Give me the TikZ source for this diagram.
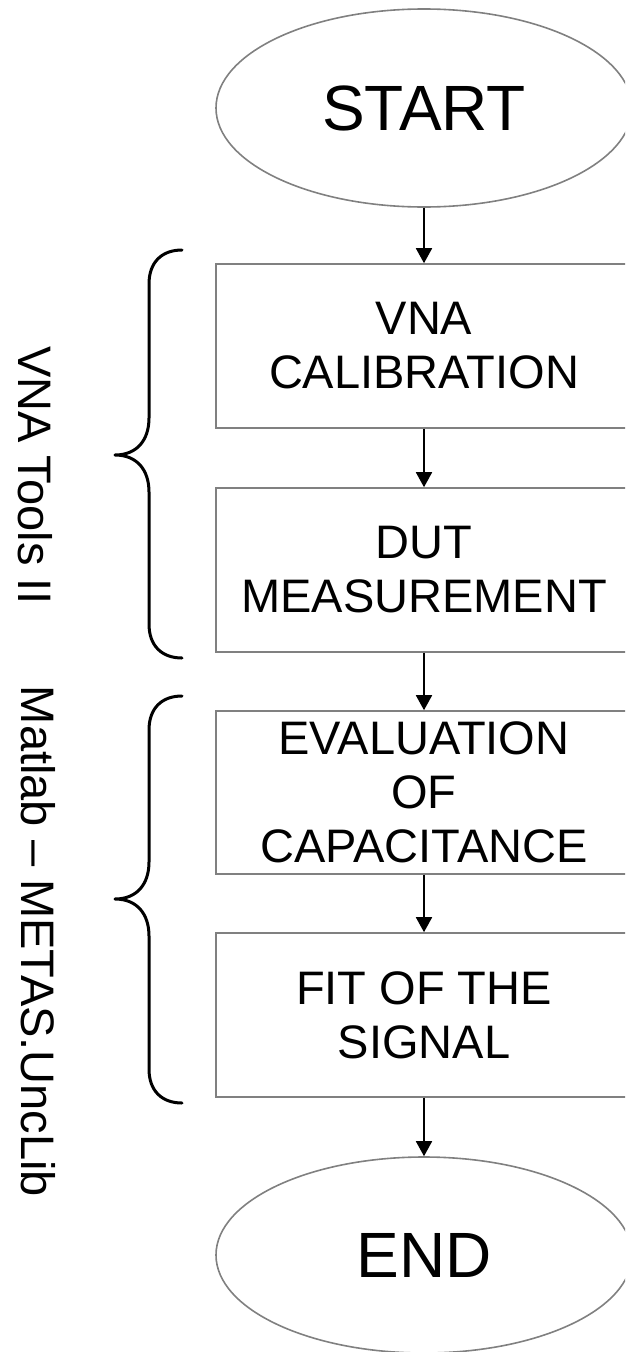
\documentclass[tikz,border=0pt]{standalone}
\usepackage{fontspec}
\setmainfont{Liberation Sans}
\usetikzlibrary{shapes.geometric,arrows.meta}
\definecolor{boxgray}{RGB}{128,128,128}
\begin{document}
\begin{tikzpicture}[x=1pt,y=-1pt,
  box/.style={draw=boxgray, line width=1.6pt, minimum width=416pt, minimum height=164pt, inner sep=0pt, align=center, font=\fontsize{47}{54}\selectfont},
  term/.style={draw=boxgray, line width=1.6pt, ellipse, minimum width=416pt, minimum height=198pt, inner sep=0pt, font=\fontsize{64}{70}\selectfont},
  flow/.style={line width=1.8pt, -{Triangle[width=16pt,length=15pt]}},
  brace/.style={line width=3pt, line cap=round, line join=round},
  side/.style={rotate=-90, anchor=base, inner sep=0pt, font=\fontsize{47}{54}\selectfont}]
\useasboundingbox (0,0) rectangle (625,1352);
\clip (0,0) rectangle (625,1352);

\node[term] (start) at (424,108) {START};
\node[box] (cal) at (424,346) {VNA\\CALIBRATION};
\node[box] (dut) at (424,570) {DUT\\MEASUREMENT};
\node[box, minimum height=163pt] (eval) at (424,792.5) {EVALUATION\\OF\\CAPACITANCE};
\node[box] (fit) at (424,1015) {FIT OF THE\\SIGNAL};
\node[term, minimum height=196pt] (end) at (424,1255) {END};

\draw[flow] (start) -- (cal);
\draw[flow] (cal) -- (dut);
\draw[flow] (dut) -- (eval);
\draw[flow] (eval) -- (fit);
\draw[flow] (fit) -- (end);

% braces
\draw[brace] (182,250) .. controls (162,250) and (149,262) .. (149,284)
  -- (149,418) .. controls (149,440) and (137,455) .. (115,455)
  .. controls (137,455) and (149,470) .. (149,492)
  -- (149,624) .. controls (149,646) and (162,658) .. (182,658);
\draw[brace] (182,696) .. controls (162,696) and (149,708) .. (149,730)
  -- (149,862) .. controls (149,884) and (137,899) .. (115,899)
  .. controls (137,899) and (149,914) .. (149,936)
  -- (149,1069) .. controls (149,1091) and (162,1103) .. (182,1103);

\node[side] (vnatools) at (19,475.5) {VNA Tools II};
\node[side] (matlab) at (21,941.5) {Matlab -- METAS.UncLib};
\end{tikzpicture}
\end{document}
